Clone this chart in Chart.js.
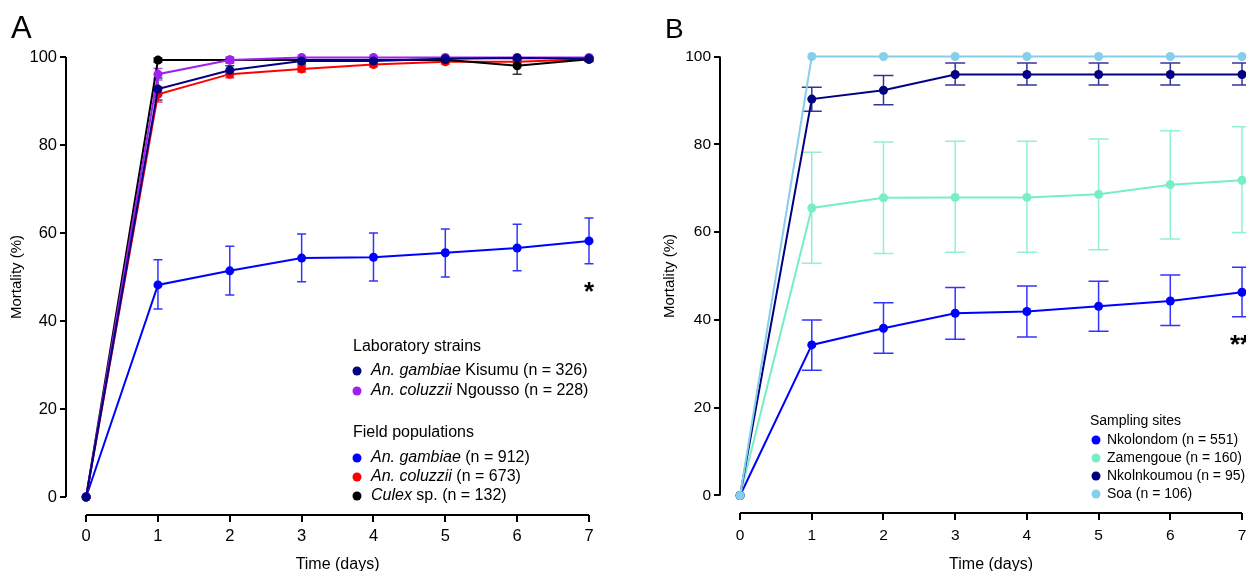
<!DOCTYPE html>
<html lang="en">
<head>
<meta charset="UTF-8">
<title>Mortality over time</title>
<script src="https://cdn.jsdelivr.net/npm/chart.js"></script>
<style>
  body { margin: 0; background: #fff; }
  canvas { position: absolute; top: 0; }
  #chartA { left: 0; }
  #chartB { left: 623px; }
</style>
</head>
<body>
<canvas id="chartA" width="623" height="571"></canvas>
<canvas id="chartB" width="623" height="571"></canvas>

<script>
// ---- data ----
const days = [0, 1, 2, 3, 4, 5, 6, 7];
const yTicks = [0, 20, 40, 60, 80, 100];

// panel A
const kisumu      = [0, 92.7, 97.0, 99.1, 99.1, 99.6, 99.8, 99.6];
const kisumuLo    = [0, 90.2, 96.0, 98.4, 98.4, 99.0, 99.3, 99.0];
const kisumuHi    = [0, 95.2, 98.0, 99.8, 99.8, 100,  100,  100];
const ngousso     = [0, 96.1, 99.3, 99.9, 99.9, 99.9, 99.9, 99.9];
const ngoussoLo   = [0, 94.8, 98.6, 99.5, 99.5, 99.5, 99.5, 99.5];
const ngoussoHi   = [0, 97.4, 100,  100,  100,  100,  100,  100];
const gambiae     = [0, 48.2, 51.4, 54.3, 54.5, 55.5, 56.6, 58.2];
const gambiaeLo   = [0, 42.7, 45.9, 48.9, 49.1, 50.0, 51.4, 53.0];
const gambiaeHi   = [0, 53.9, 57.0, 59.8, 60.0, 60.9, 62.0, 63.4];
const coluzzii    = [0, 91.5, 96.1, 97.3, 98.3, 98.9, 98.9, 99.5];
const coluzziiLo  = [0, 89.8, 95.3, 96.6, 97.8, 98.4, 98.4, 99.1];
const coluzziiHi  = [0, 93.2, 96.9, 98.0, 98.8, 99.4, 99.4, 99.9];
const culex       = [0, 99.3, 99.3, 99.3, 99.3, 99.4, 98.0, 99.5];
const culexLo     = [0, 98.8, 99.0, 99.0, 99.0, 99.0, 96.1, 99.1];
const culexHi     = [0, 99.8, 99.6, 99.6, 99.6, 99.8, 99.9, 99.9];

// panel B
const nkolondom     = [0, 34.3, 38.1, 41.5, 41.9, 43.1, 44.3, 46.3];
const nkolondomLo   = [0, 28.5, 32.4, 35.6, 36.1, 37.4, 38.7, 40.7];
const nkolondomHi   = [0, 40.0, 43.9, 47.4, 47.7, 48.8, 50.2, 52.0];
const zamengoue     = [0, 65.5, 67.8, 67.9, 67.9, 68.6, 70.8, 71.8];
const zamengoueLo   = [0, 52.9, 55.1, 55.4, 55.4, 56.0, 58.4, 59.9];
const zamengoueHi   = [0, 78.2, 80.5, 80.7, 80.7, 81.2, 83.1, 84.0];
const nkolnkoumou   = [0, 90.3, 92.3, 95.9, 95.9, 95.9, 95.9, 95.9];
const nkolnkoumouLo = [0, 87.5, 89.0, 93.5, 93.5, 93.5, 93.5, 93.5];
const nkolnkoumouHi = [0, 93.0, 95.7, 98.5, 98.5, 98.5, 98.5, 98.5];
const soa           = [0, 100, 100, 100, 100, 100, 100, 100];

const FONT = "'Liberation Sans', Arial, Helvetica, sans-serif";

function series(data, color, lo, hi, order) {
  return {
    data: data.map((v, i) => ({ x: days[i], y: v })),
    borderColor: color, backgroundColor: color,
    borderWidth: 2, pointRadius: 4.5, pointHoverRadius: 4.5,
    pointBorderWidth: 0, tension: 0, clip: false,
    order: order, errLo: lo, errHi: hi
  };
}

// vertical error bars with caps, drawn under the lines
const errorBars = {
  id: 'errorBars',
  beforeDatasetsDraw(chart, args, opts) {
    const { ctx, scales: { x, y } } = chart;
    chart.data.datasets.forEach(ds => {
      if (!ds.errLo) return;
      ctx.save();
      ctx.strokeStyle = ds.borderColor;
      ctx.globalAlpha = 0.8;
      ctx.lineWidth = 1.5;
      ds.data.forEach((p, i) => {
        if (p.x === 0) return;
        const px = x.getPixelForValue(p.x);
        const yl = y.getPixelForValue(ds.errLo[i]);
        const yh = y.getPixelForValue(ds.errHi[i]);
        const c = opts.cap;
        ctx.beginPath();
        ctx.moveTo(px, yl); ctx.lineTo(px, yh);
        ctx.moveTo(px - c, yl); ctx.lineTo(px + c, yl);
        ctx.moveTo(px - c, yh); ctx.lineTo(px + c, yh);
        ctx.stroke();
      });
      ctx.restore();
    });
  }
};

// detached axis lines, axis titles, panel letter, legend and stars
const deco = {
  id: 'deco',
  afterDraw(chart, args, o) {
    const { ctx, scales: { x, y }, chartArea } = chart;
    const x0 = x.getPixelForValue(0), x7 = x.getPixelForValue(7);
    const y0 = y.getPixelForValue(0), y100 = y.getPixelForValue(100);
    ctx.save();
    ctx.strokeStyle = '#000';
    ctx.lineWidth = 2;
    ctx.beginPath();
    ctx.moveTo(chartArea.left, y100);
    ctx.lineTo(chartArea.left, y0);
    ctx.moveTo(x0, chartArea.bottom);
    ctx.lineTo(x7, chartArea.bottom);
    ctx.stroke();

    ctx.fillStyle = '#000';
    ctx.textAlign = 'center';
    ctx.textBaseline = 'middle';
    ctx.font = '16px ' + FONT;
    ctx.fillText('Time (days)', (x0 + x7) / 2, 565);
    ctx.save();
    ctx.translate(o.yTitleX, (y0 + y100) / 2);
    ctx.rotate(-Math.PI / 2);
    ctx.font = '15px ' + FONT;
    ctx.fillText('Mortality (%)', 0, 0);
    ctx.restore();

    ctx.textAlign = 'left';
    ctx.textBaseline = 'alphabetic';
    ctx.font = o.letterSize + 'px ' + FONT;
    ctx.fillText(o.letter, o.letterX, 38);

    ctx.textBaseline = 'middle';
    o.legend.forEach(row => {
      if (row.header) {
        ctx.fillStyle = '#000';
        ctx.font = o.legendSize + 'px ' + FONT;
        ctx.fillText(row.header, o.headerX, row.y);
        return;
      }
      ctx.fillStyle = row.color;
      ctx.beginPath();
      ctx.arc(o.markX, row.y, 4.5, 0, Math.PI * 2);
      ctx.fill();
      ctx.fillStyle = '#000';
      let tx = o.textX;
      row.parts.forEach(([txt, it]) => {
        ctx.font = (it ? 'italic ' : '') + o.legendSize + 'px ' + FONT;
        ctx.fillText(txt, tx, row.y);
        tx += ctx.measureText(txt).width;
      });
    });

    ctx.font = 'bold 26px ' + FONT;
    ctx.fillText(o.star, o.starX, o.starY);
    ctx.restore();
  }
};

function makeChart(id, datasets, cfg) {
  const fixTicks = vals => s => { s.ticks = vals.map(v => ({ value: v })); };
  return new Chart(document.getElementById(id), {
    type: 'line',
    data: { datasets },
    plugins: [errorBars, deco],
    options: {
      responsive: false, animation: false, events: [],
      layout: { autoPadding: false, padding: { left: cfg.padLeft, top: cfg.top, right: cfg.padRight, bottom: 0 } },
      plugins: { legend: { display: false }, tooltip: { enabled: false },
                 errorBars: { cap: cfg.cap }, deco: cfg.deco },
      scales: {
        x: {
          type: 'linear', min: -0.28, max: 7,
          afterBuildTicks: fixTicks(days),
          afterFit: s => { s.height = cfg.xHeight; s.paddingLeft = 0; s.paddingRight = 0; },
          grid: { drawOnChartArea: false, drawTicks: true, tickLength: 7, color: '#000', lineWidth: 2 },
          border: { display: false },
          ticks: { color: '#000', padding: cfg.xTickPad, font: { family: FONT, size: cfg.tickSize } }
        },
        y: {
          min: cfg.yMin, max: 100,
          afterBuildTicks: fixTicks(yTicks),
          afterFit: s => { s.width = cfg.yWidth; s.paddingTop = 0; s.paddingBottom = 0; },
          grid: { drawOnChartArea: false, drawTicks: true, tickLength: 6, color: '#000', lineWidth: 2 },
          border: { display: false },
          ticks: { color: '#000', padding: 3, font: { family: FONT, size: cfg.tickSize } }
        }
      }
    }
  });
}

makeChart('chartA', [
  series(kisumu, '#000080', kisumuLo, kisumuHi, 0),
  series(ngousso, '#a020f0', ngoussoLo, ngoussoHi, 1),
  series(culex, '#000000', culexLo, culexHi, 2),
  series(coluzzii, '#ff0000', coluzziiLo, coluzziiHi, 3),
  series(gambiae, '#0000ff', gambiaeLo, gambiaeHi, 4)
], {
  padLeft: 0, padRight: 34, top: 57, yWidth: 66, xHeight: 56, yMin: -4.09,
  tickSize: 16.5, cap: 4.5, xTickPad: 5,
  deco: {
    letter: 'A', letterX: 11, letterSize: 31, yTitleX: 17,
    legendSize: 16, headerX: 353, markX: 357, textX: 371,
    legend: [
      { header: 'Laboratory strains', y: 347 },
      { color: '#000080', y: 371, parts: [['An. gambiae', true], [' Kisumu (n = 326)', false]] },
      { color: '#a020f0', y: 391, parts: [['An. coluzzii', true], [' Ngousso (n = 228)', false]] },
      { header: 'Field populations', y: 433 },
      { color: '#0000ff', y: 458, parts: [['An. gambiae', true], [' (n = 912)', false]] },
      { color: '#ff0000', y: 477, parts: [['An. coluzzii', true], [' (n = 673)', false]] },
      { color: '#000000', y: 496, parts: [['Culex', true], [' sp. (n = 132)', false]] }
    ],
    star: '*', starX: 584, starY: 293
  }
});

makeChart('chartB', [
  series(soa, '#87ceeb', null, null, 0),
  series(nkolnkoumou, '#000080', nkolnkoumouLo, nkolnkoumouHi, 1),
  series(zamengoue, '#76eec6', zamengoueLo, zamengoueHi, 2),
  series(nkolondom, '#0000ff', nkolondomLo, nkolondomHi, 3)
], {
  padLeft: 30, padRight: 4, top: 56.5, yWidth: 67, xHeight: 58, yMin: -3.99,
  tickSize: 15.5, cap: 10, xTickPad: 6,
  deco: {
    letter: 'B', letterX: 42, letterSize: 28, yTitleX: 47,
    legendSize: 14, headerX: 467, markX: 473, textX: 484,
    legend: [
      { header: 'Sampling sites', y: 421 },
      { color: '#0000ff', y: 440, parts: [['Nkolondom (n = 551)', false]] },
      { color: '#76eec6', y: 458, parts: [['Zamengoue (n = 160)', false]] },
      { color: '#000080', y: 476, parts: [['Nkolnkoumou (n = 95)', false]] },
      { color: '#87ceeb', y: 494, parts: [['Soa (n = 106)', false]] }
    ],
    star: '**', starX: 607, starY: 346
  }
});
</script>
</body>
</html>
